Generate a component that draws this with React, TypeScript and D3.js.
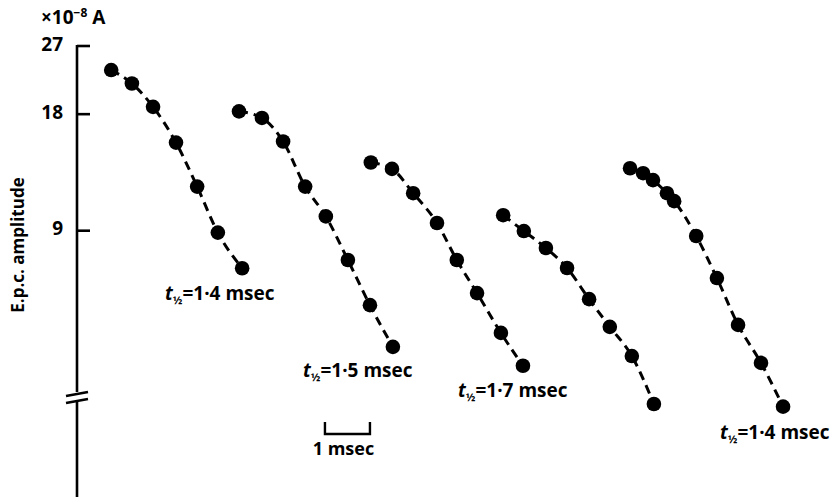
import React from "react";
import * as d3 from "d3";

// Decay of end-plate current amplitude: five runs, time in msec, amplitude in 10^-8 A
const run1Time = [0.76, 1.22, 1.69, 2.2, 2.67, 3.13, 3.67];
const run1Amp = [23.4, 21.6, 18.8, 15.2, 11.7, 8.9, 7.2];

const run2Time = [3.6, 4.11, 4.58, 5.07, 5.53, 6.02, 6.51, 7.02];
const run2Amp = [18.3, 17.6, 15.3, 11.7, 9.8, 7.56, 5.78, 4.51];

const run3Time = [6.53, 7.0, 7.47, 8.0, 8.44, 8.89, 9.42, 9.91];
const run3Amp = [13.5, 13.0, 11.25, 9.42, 7.56, 6.21, 4.9, 4.03];

const run4Time = [9.47, 9.93, 10.42, 10.89, 11.38, 11.84, 12.33, 12.82];
const run4Amp = [9.87, 8.98, 8.12, 7.21, 5.99, 5.08, 4.27, 3.21];

const run5Time = [12.29, 12.58, 12.8, 13.11, 13.27, 13.76, 14.22, 14.69, 15.2, 15.69];
const run5Amp = [13.05, 12.67, 12.16, 11.25, 10.73, 8.72, 6.79, 5.14, 4.1, 3.16];

const halfTimes = ["1·4", "1·5", "1·7", "", "1·4"];
const yTicks = [27, 18, 9];

const runs = [
  { time: run1Time, amp: run1Amp },
  { time: run2Time, amp: run2Amp },
  { time: run3Time, amp: run3Amp },
  { time: run4Time, amp: run4Amp },
  { time: run5Time, amp: run5Amp },
];

// Label anchor (left x, baseline y) for each run's half-time annotation
const labelPos = [
  [165, 300],
  [303, 377],
  [458, 397],
  [0, 0],
  [720, 439],
];

const FONT = "'Open Sans', Lato, sans-serif";

export default function App() {
  const width = 840;
  const height = 501;
  const axisX = 77;

  const x = d3.scaleLinear().domain([0, 17]).range([axisX, axisX + 17 * 45]);
  const y = d3.scaleLog().domain([27, 9]).range([46, 230.7]);

  const line = d3
    .line<[number, number]>()
    .x((d) => x(d[0]))
    .y((d) => y(d[1]))
    .curve(d3.curveMonotoneX);

  const breakY = 397;
  const barStart = 5.51;

  return (
    <svg
      width={width}
      height={height}
      style={{ position: "absolute", left: 0, top: 0, background: "#fff" }}
      fontFamily={FONT}
      fontWeight={700}
    >
      {/* y axis */}
      <line x1={axisX} x2={axisX} y1={y(27) - 1} y2={497} stroke="#000" strokeWidth={2.6} />
      {yTicks.map((t) => (
        <g key={t}>
          <line x1={axisX} x2={axisX + 13} y1={y(t)} y2={y(t)} stroke="#000" strokeWidth={2.6} />
          <text x={63} y={y(t) - 2} dy="0.35em" textAnchor="end" fontSize={19}>
            {t}
          </text>
        </g>
      ))}
      {/* axis break */}
      <rect x={axisX - 3} y={breakY - 5} width={6} height={9} fill="#fff" />
      <line x1={66} x2={88} y1={breakY - 1} y2={breakY - 5} stroke="#000" strokeWidth={2.6} />
      <line x1={66} x2={88} y1={breakY + 6} y2={breakY + 2} stroke="#000" strokeWidth={2.6} />

      <text x={41} y={24} fontSize={19}>
        ×10
        <tspan fontSize={12} dy={-7}>−8</tspan>
        <tspan dy={7}> A</tspan>
      </text>
      <text
        transform={`translate(24, 245) rotate(-90)`}
        textAnchor="middle"
        fontSize={17}
      >
        E.p.c. amplitude
      </text>

      {runs.map((r, i) => {
        const pts = r.time.map((t, j) => [t, r.amp[j]] as [number, number]);
        return (
          <g key={i}>
            <path
              d={line(pts) || ""}
              fill="none"
              stroke="#000"
              strokeWidth={3}
              strokeDasharray="9,6"
            />
            {pts.map((p, j) => (
              <circle key={j} cx={x(p[0])} cy={y(p[1])} r={7.3} fill="#000" />
            ))}
            {halfTimes[i] && (
              <text x={labelPos[i][0]} y={labelPos[i][1]} fontSize={19}>
                <tspan fontStyle="italic">t</tspan>
                <tspan fontSize={11} dy={4}>½</tspan>
                <tspan dy={-4}>={halfTimes[i]} msec</tspan>
              </text>
            )}
          </g>
        );
      })}

      {/* 1 msec scale bar */}
      <path
        d={`M${x(barStart)},422 V434 H${x(barStart + 1)} V422`}
        fill="none"
        stroke="#000"
        strokeWidth={2.4}
      />
      <text x={(x(barStart) + x(barStart + 1)) / 2 - 4} y={455} textAnchor="middle" fontSize={18}>
        1 msec
      </text>
    </svg>
  );
}
